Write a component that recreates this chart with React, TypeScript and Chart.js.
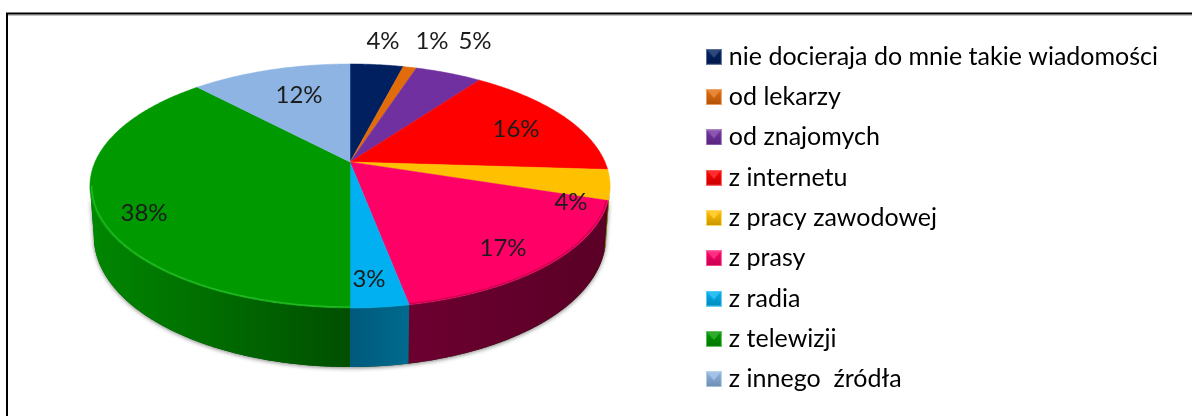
import React, { useEffect, useRef } from "react";
import { Chart, registerables } from "chart.js";

Chart.register(...registerables);

const categories = [
  "nie docieraja do mnie takie wiadomości",
  "od lekarzy",
  "od znajomych",
  "z internetu",
  "z pracy zawodowej",
  "z prasy",
  "z radia",
  "z telewizji",
  "z innego  źródła",
];
const shares = [4, 1, 5, 16, 4, 17, 3, 38, 12];
const topColors = ["#002060", "#E26B0A", "#7030A0", "#FF0000", "#FFC000", "#FF0066", "#00B0F0", "#009900", "#8DB4E2"];
const wallLeft = ["#001540", "#99480a", "#4b206c", "#a00000", "#a88000", "#6c0030", "#005a7c", "#008600", "#5f7a99"];
const wallRight = ["#001540", "#99480a", "#4b206c", "#a00000", "#a88000", "#5a0026", "#006a8e", "#004f00", "#5f7a99"];
const rimGlow = ["", "", "", "", "", "rgba(120,0,50,0.35)", "", "rgba(60,210,60,0.55)", ""];
const labelCentres: [number, number][] = [
  [383, 41], [432, 41], [475, 41], [516, 129], [571, 202], [503, 248], [369, 279], [144, 213], [299, 95],
];

const FONT = "Lato";
const APEX = { x: 350, y: 162 };
const SPREAD_X = 255;
const SPREAD_Y = 117.3;
const PERSPECTIVE = 0.1967;

function rim(theta: number) {
  const u = Math.cos(theta);
  const v = Math.sin(theta);
  const d = 1 - PERSPECTIVE * v;
  return { x: APEX.x + (SPREAD_X * u) / d, y: APEX.y + (SPREAD_Y * v) / d };
}
function under(theta: number) {
  const p = rim(theta);
  const v = Math.sin(theta);
  return { x: APEX.x + (p.x - APEX.x) * 0.985, y: p.y + 48 + 11 * v };
}
function samples(a: number, b: number) {
  const n = Math.max(2, Math.ceil(Math.abs(b - a) / 0.01));
  const out: number[] = [];
  for (let i = 0; i <= n; i++) out.push(a + ((b - a) * i) / n);
  return out;
}

const WALL_FROM = 0.2;
const WALL_TO = Math.PI - 0.2;

function drawPie(chart: any) {
  const ctx: CanvasRenderingContext2D = chart.ctx;
  const arcs = chart.getDatasetMeta(0).data.map((el: any) => el.getProps(["startAngle", "endAngle"], true));

  // soft shadow below the drum
  ctx.save();
  ctx.shadowColor = "rgba(0,0,0,0.5)";
  ctx.shadowBlur = 4;
  ctx.shadowOffsetY = 1;
  ctx.fillStyle = "#005500";
  ctx.beginPath();
  samples(WALL_FROM, WALL_TO).forEach((t, i) => {
    const p = under(t);
    if (i === 0) ctx.moveTo(p.x, p.y);
    else ctx.lineTo(p.x, p.y);
  });
  samples(WALL_TO, WALL_FROM).forEach((t) => {
    const p = rim(t);
    ctx.lineTo(p.x, p.y);
  });
  ctx.closePath();
  ctx.fill();
  ctx.restore();

  // side walls
  arcs.forEach((arc: any, i: number) => {
    const s = Math.max(arc.startAngle, WALL_FROM);
    const e = Math.min(arc.endAngle, WALL_TO);
    if (e <= s) return;
    const ts = samples(s, e);
    const a = under(e);
    const b = under(s);
    const g = ctx.createLinearGradient(Math.min(a.x, b.x), 0, Math.max(a.x, b.x), 0);
    g.addColorStop(0, wallLeft[i]);
    g.addColorStop(1, wallRight[i]);
    ctx.fillStyle = g;
    ctx.beginPath();
    ts.forEach((t, k) => {
      const p = rim(t);
      if (k === 0) ctx.moveTo(p.x, p.y);
      else ctx.lineTo(p.x, p.y);
    });
    ts.slice().reverse().forEach((t) => {
      const p = under(t);
      ctx.lineTo(p.x, p.y);
    });
    ctx.closePath();
    ctx.fill();
  });

  // top faces
  arcs.forEach((arc: any, i: number) => {
    ctx.fillStyle = topColors[i];
    ctx.strokeStyle = topColors[i];
    ctx.lineWidth = 0.5;
    ctx.beginPath();
    ctx.moveTo(APEX.x, APEX.y);
    samples(arc.startAngle, arc.endAngle).forEach((t) => {
      const p = rim(t);
      ctx.lineTo(p.x, p.y);
    });
    ctx.closePath();
    ctx.fill();
    ctx.stroke();
  });

  // bevel along the front rim only
  arcs.forEach((arc: any, i: number) => {
    if (!rimGlow[i]) return;
    const s = Math.max(arc.startAngle, WALL_FROM);
    const e = Math.min(arc.endAngle, WALL_TO);
    if (e <= s) return;
    ctx.strokeStyle = rimGlow[i];
    ctx.lineWidth = 1.5;
    ctx.beginPath();
    samples(s, e).forEach((t, k) => {
      const p = rim(t);
      const x = APEX.x + (p.x - APEX.x) * 0.993;
      const y = APEX.y + (p.y - APEX.y) * 0.993;
      if (k === 0) ctx.moveTo(x, y);
      else ctx.lineTo(x, y);
    });
    ctx.stroke();
  });
}

function shade(hex: string, f: number) {
  const n = parseInt(hex.slice(1), 16);
  const c = [(n >> 16) & 255, (n >> 8) & 255, n & 255].map((v) =>
    Math.round(f >= 0 ? v + (255 - v) * f : v * (1 + f))
  );
  return `rgb(${c[0]},${c[1]},${c[2]})`;
}

function bevelIcon(color: string) {
  const S = 16;
  const c = document.createElement("canvas");
  c.width = S;
  c.height = S;
  const x = c.getContext("2d") as CanvasRenderingContext2D;
  const g = x.createLinearGradient(0, 0, 0, S);
  g.addColorStop(0, shade(color, 0.02));
  g.addColorStop(1, shade(color, -0.22));
  x.fillStyle = g;
  x.fillRect(0, 0, S, S);
  // the pale wedge at the top of each key
  x.fillStyle = shade(color, 0.18);
  x.beginPath();
  x.moveTo(1, 1);
  x.lineTo(S - 1, 1);
  x.lineTo(S / 2, S / 2 + 1);
  x.closePath();
  x.fill();
  x.strokeStyle = shade(color, 0.4);
  x.lineWidth = 1;
  x.strokeRect(0.5, 0.5, S - 1, S - 1);
  return c;
}

const pie3d = {
  id: "pie3d",
  beforeDraw(chart: any) {
    const { ctx, width, height } = chart;
    ctx.save();
    ctx.strokeStyle = "#000";
    ctx.lineWidth = 2;
    ctx.beginPath();
    ctx.moveTo(7, height);
    ctx.lineTo(7, 13.5);
    ctx.lineTo(width, 13.5);
    ctx.stroke();
    ctx.strokeStyle = "rgba(90,90,90,0.7)";
    ctx.lineWidth = 1;
    ctx.beginPath();
    ctx.moveTo(8, 15);
    ctx.lineTo(width, 15);
    ctx.stroke();
    ctx.restore();
  },
  beforeDatasetDraw(chart: any) {
    const ctx = chart.ctx;
    ctx.save();
    drawPie(chart);
    ctx.restore();
    return false;
  },
  afterDatasetsDraw(chart: any) {
    const ctx = chart.ctx;
    ctx.save();
    ctx.font = `24px ${FONT}`;
    ctx.fillStyle = "#1c1c1c";
    ctx.textAlign = "center";
    ctx.textBaseline = "middle";
    shares.forEach((v, i) => {
      ctx.fillText(`${v}%`, labelCentres[i][0], labelCentres[i][1]);
    });
    ctx.restore();
  },
};

export default function App() {
  const ref = useRef<HTMLCanvasElement | null>(null);
  useEffect(() => {
    if (!ref.current) return;
    const chart = new Chart(ref.current, {
      type: "pie",
      data: {
        labels: categories,
        datasets: [{ data: shares, backgroundColor: topColors, borderWidth: 0 }],
      },
      options: {
        responsive: false,
        animation: false,
        layout: { padding: { top: 29, right: 24, bottom: 0, left: 0 } },
        plugins: {
          tooltip: { enabled: false },
          legend: {
            display: true,
            position: "right",
            align: "start",
            labels: {
              usePointStyle: true,
              pointStyleWidth: 5,
              padding: 15.3,
              color: "#222",
              font: { family: FONT, size: 25, lineHeight: 1 },
              generateLabels: () =>
                categories.map((text, i) => ({
                  text,
                  index: i,
                  fillStyle: topColors[i],
                  strokeStyle: topColors[i],
                  lineWidth: 0,
                  hidden: false,
                  pointStyle: bevelIcon(topColors[i]),
                })),
            },
          },
        },
      },
      plugins: [pie3d],
    } as any);
    return () => chart.destroy();
  }, []);
  return (
    <div style={{ position: "fixed", left: 0, top: 0, width: 1192, height: 416, background: "#fff" }}>
      <canvas ref={ref} width={1192} height={416} style={{ display: "block" }} />
    </div>
  );
}
